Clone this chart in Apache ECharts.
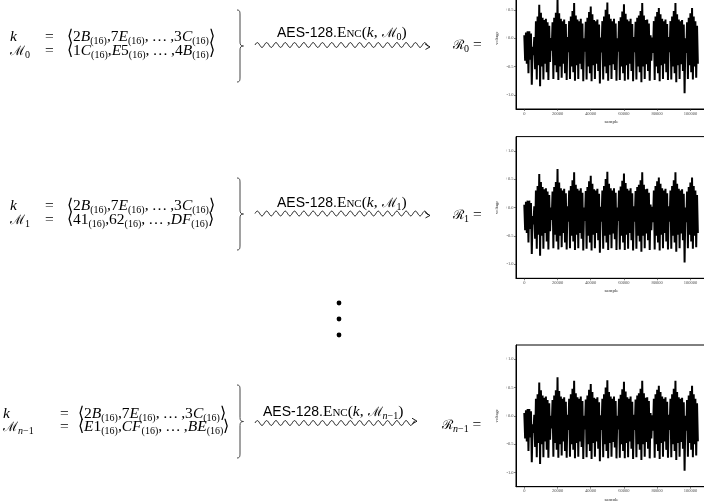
<!DOCTYPE html>
<html lang="en">
<head>
<meta charset="UTF-8">
<title>AES-128 traces</title>
<script src="https://cdn.jsdelivr.net/npm/echarts@6/dist/echarts.min.js"></script>
<style>
    html, body {
        margin: 0;
        padding: 0;
        width: 704px;
        height: 501px;
        overflow: hidden;
        background: #fff;
    }
    #chart {
        position: absolute;
        left: 0;
        top: 0;
        width: 704px;
        height: 501px;
    }
    .t {
        position: absolute;
        white-space: nowrap;
        line-height: 1;
        font-family: 'Liberation Serif', serif;
        font-size: 15.5px;
        color: #000;
    }
    .i { font-style: italic; }
    .s { font-size: 10px; position: relative; top: 3px; font-style: normal; }
    .sf { font-family: 'Liberation Sans', sans-serif; font-size: 14px; }
    .sc { font-variant: small-caps; }
    .cal { font-family: 'DejaVu Serif', serif; font-style: normal; font-size: 13px; }
</style>
</head>
<body>
<div id="chart"></div>
<div id="labels"></div>
<script>
    // key and plaintext bytes shown on the left
    var keyBytes = ['2B', '7E', '3C'];
    var msgBytes = [
        ['1C', 'E5', '4B'],
        ['41', '62', 'DF'],
        ['E1', 'CF', 'BE']
    ];
    var msgNames = ['0', '1', 'n\u22121'];

    // trace envelope, one high/low pair per 1000 samples
    var hi = [
        0.05, 0.10, 0.12, 0.12, 0.08, -0.15, 0.02,
        0.30, 0.38, 0.59, 0.45, 0.36, 0.32, 0.34, 0.28, 0.22, 0.00,
        0.28, 0.36, 0.45, 0.68, 0.44, 0.34, 0.30, 0.33, 0.25, 0.02,
        0.30, 0.38, 0.48, 0.62, 0.40, 0.33, 0.30, 0.34, 0.26, 0.00,
        0.29, 0.36, 0.46, 0.56, 0.42, 0.32, 0.30, 0.33, 0.24, 0.01,
        0.30, 0.38, 0.50, 0.63, 0.42, 0.34, 0.30, 0.34, 0.26, 0.00,
        0.30, 0.37, 0.47, 0.60, 0.43, 0.33, 0.30, 0.34, 0.25, 0.02,
        0.29, 0.36, 0.40, 0.48, 0.62, 0.40, 0.32, 0.33, 0.26, 0.05, 0.01,
        0.30, 0.38, 0.46, 0.53, 0.42, 0.34, 0.30, 0.33, 0.25, 0.02,
        0.30, 0.38, 0.48, 0.62, 0.42, 0.33, 0.30, 0.32, 0.24, 0.00,
        0.28, 0.36, 0.44, 0.53, 0.38, 0.30, 0.22
    ];
    var lo = [
        -0.40, -0.45, -0.62, -0.38, -0.82, -0.30, -0.55,
        -0.73, -0.48, -0.85, -0.50, -0.73, -0.45, -0.60, -0.74, -0.42, -0.22,
        -0.72, -0.48, -0.60, -0.74, -0.50, -0.70, -0.45, -0.62, -0.74, -0.25,
        -0.72, -0.50, -0.60, -0.75, -0.48, -0.72, -0.45, -0.55, -0.76, -0.24,
        -0.73, -0.50, -0.62, -0.76, -0.48, -0.72, -0.45, -0.58, -0.80, -0.25,
        -0.73, -0.50, -0.62, -0.75, -0.48, -0.72, -0.46, -0.56, -0.75, -0.24,
        -0.74, -0.50, -0.62, -0.75, -0.48, -0.73, -0.45, -0.58, -0.76, -0.25,
        -0.73, -0.50, -0.60, -0.78, -0.50, -0.72, -0.46, -0.58, -0.75, -0.40, -0.26,
        -0.74, -0.50, -0.62, -0.76, -0.48, -0.72, -0.45, -0.60, -0.74, -0.25,
        -0.73, -0.50, -0.62, -0.78, -0.48, -0.72, -0.46, -0.58, -0.97, -0.26,
        -0.72, -0.48, -0.60, -0.73, -0.50, -0.70, -0.45
    ];
    var step = 1000;
    var xTicks = [0, 20000, 40000, 60000, 80000, 100000];
    var yTicks = [-1, -0.5, 0, 0.5, 1];

    var trace = [];
    for (var i = 0; i < hi.length; i++) {
        trace.push([i * step, hi[i]]);
        trace.push([i * step + step / 2, lo[i]]);
    }

    // layout of the three rows
    var axisY = [109, 278.3, 486.7];     // x axis line of each small plot
    var waveY = [45, 213.5, 423];
    var labelBase = [37.5, 207.5, 416];
    var textBase = [41.5, 210.5, 418];
    var rBase = [49.5, 219, 429];
    var braceTop = [10, 178, 385];
    var braceBot = [82, 250, 458];
    var waveEnd = [430, 430, 417];
    var leftCols = [[10, 45, 67], [10, 45, 67], [3, 60, 78]];
    var labelX = [277, 277, 263];
    var rX = [453, 453, 442];

    var chart = echarts.init(document.getElementById('chart'), null, {renderer: 'canvas'});

    var grids = [], xAxes = [], yAxes = [], series = [];
    var tickFont = {fontSize: 4.5, fontFamily: 'Liberation Serif', color: '#4d4d4d'};
    axisY.forEach(function (b, k) {
        grids.push({
            left: 516, top: b - 141.7, width: 191, height: 141.7,
            show: true, borderColor: '#000', borderWidth: 1,
            backgroundColor: 'transparent',
            containLabel: false, outerBoundsMode: 'none'
        });
        xAxes.push({
            gridIndex: k, type: 'value', min: -5000, max: 110000,
            axisLine: {show: true, onZero: false, lineStyle: {color: '#000', width: 1}},
            axisTick: {show: true, length: 2, customValues: xTicks, lineStyle: {color: '#333', width: 0.6}},
            axisLabel: Object.assign({
                customValues: xTicks, margin: 2,
                formatter: function (v) { return String(v); }
            }, tickFont),
            splitLine: {show: false},
            name: 'sample', nameLocation: 'middle', nameGap: 10,
            nameTextStyle: {fontSize: 5, fontFamily: 'Liberation Serif', color: '#333'}
        });
        yAxes.push({
            gridIndex: k, type: 'value', min: -1.25, max: 1.25,
            axisLine: {show: true, onZero: false, lineStyle: {color: '#000', width: 1}},
            axisTick: {show: true, length: 2, customValues: yTicks, lineStyle: {color: '#333', width: 0.6}},
            axisLabel: Object.assign({
                customValues: yTicks, margin: 2.5,
                formatter: function (v) { return (v >= 0 ? '+' : '') + v.toFixed(1); }
            }, tickFont),
            splitLine: {show: false},
            name: 'voltage', nameLocation: 'middle', nameGap: 17, nameRotate: 90,
            nameTextStyle: {fontSize: 4.5, fontFamily: 'Liberation Serif', color: '#333'}
        });
        series.push({
            type: 'line', xAxisIndex: k, yAxisIndex: k,
            data: trace, symbol: 'none', showSymbol: false, silent: true,
            lineStyle: {color: '#000', width: 2}, clip: true
        });
    });

    // decorations: braces, wavy arrows, vertical dots
    var line = {stroke: '#000', lineWidth: 0.9, fill: 'none'};
    var graphics = [];
    function brace(x, y0, y1) {
        var ym = (y0 + y1) / 2;
        var st = {stroke: '#444', lineWidth: 1, fill: 'none'};
        graphics.push(
            {type: 'bezierCurve', shape: {x1: x - 3, y1: y0, cpx1: x, cpy1: y0, cpx2: x, cpy2: y0 + 2, x2: x, y2: y0 + 5}, style: st},
            {type: 'line', shape: {x1: x, y1: y0 + 5, x2: x, y2: ym - 4}, style: st},
            {type: 'bezierCurve', shape: {x1: x, y1: ym - 4, cpx1: x, cpy1: ym - 1, cpx2: x + 1, cpy2: ym, x2: x + 3.5, y2: ym}, style: st},
            {type: 'bezierCurve', shape: {x1: x + 3.5, y1: ym, cpx1: x + 1, cpy1: ym, cpx2: x, cpy2: ym + 1, x2: x, y2: ym + 4}, style: st},
            {type: 'line', shape: {x1: x, y1: ym + 4, x2: x, y2: y1 - 5}, style: st},
            {type: 'bezierCurve', shape: {x1: x, y1: y1 - 5, cpx1: x, cpy1: y1 - 2, cpx2: x, cpy2: y1, x2: x - 3, y2: y1}, style: st}
        );
    }
    function wave(x0, x1, y) {
        var pts = [];
        for (var x = x0; x <= x1 - 2; x += 0.5) {
            pts.push([x, y - 2.4 * Math.sin((x - x0) / 9.3 * 2 * Math.PI)]);
        }
        graphics.push({type: 'polyline', shape: {points: pts}, style: line});
        var e = pts[pts.length - 1];
        graphics.push({type: 'polyline', shape: {points: [[e[0] - 3, e[1] - 2.5], [x1, e[1] + 0.5], [e[0] - 2.5, e[1] + 3]]}, style: line});
    }
    for (var r = 0; r < 3; r++) {
        brace(240, braceTop[r], braceBot[r]);
        wave(255, waveEnd[r], waveY[r]);
    }
    [303, 319, 335].forEach(function (y) {
        graphics.push({type: 'circle', shape: {cx: 339, cy: y, r: 2.4}, style: {fill: '#000'}});
    });

    chart.setOption({
        animation: false,
        grid: grids,
        xAxis: xAxes,
        yAxis: yAxes,
        series: series,
        graphic: {elements: graphics}
    });

    // math text as html
    function hexByte(h) {
        return h.split('').map(function (c) {
            return /[0-9]/.test(c) ? c : '<span class="i">' + c + '</span>';
        }).join('') + '<span class="s">(16)</span>';
    }
    function tuple(b) {
        return '\u27E8' + hexByte(b[0]) + ',' + hexByte(b[1]) + ',&thinsp;\u2026&thinsp;,' + hexByte(b[2]) + '\u27E9';
    }
    function sub(n) {
        return '<span class="s">' + n.replace('n', '<span class="i">n</span>') + '</span>';
    }
    var box = document.getElementById('labels');
    function put(html, x, base, fs) {
        var d = document.createElement('div');
        d.className = 't';
        d.style.left = x + 'px';
        d.style.top = (base - 0.84 * (fs || 15.5)) + 'px';
        d.innerHTML = html;
        box.appendChild(d);
    }
    for (var r = 0; r < 3; r++) {
        var c = leftCols[r];
        put('<span class="i">k</span>', c[0], textBase[r]);
        put('=', c[1], textBase[r]);
        put(tuple(keyBytes), c[2], textBase[r]);
        put('<span class="cal">\u2133</span>' + sub(msgNames[r]), c[0], textBase[r] + 13.5);
        put('=', c[1], textBase[r] + 13.5);
        put(tuple(msgBytes[r]), c[2], textBase[r] + 13.5);
        put('<span class="sf">AES-128.</span><span class="sc">Enc</span>(<span class="i">k</span>, <span class="cal">\u2133</span>' + sub(msgNames[r]) + ')', labelX[r], labelBase[r]);
        put('<span class="cal">\u211B</span>' + sub(msgNames[r]) + ' =', rX[r], rBase[r]);
    }
</script>
</body>
</html>
